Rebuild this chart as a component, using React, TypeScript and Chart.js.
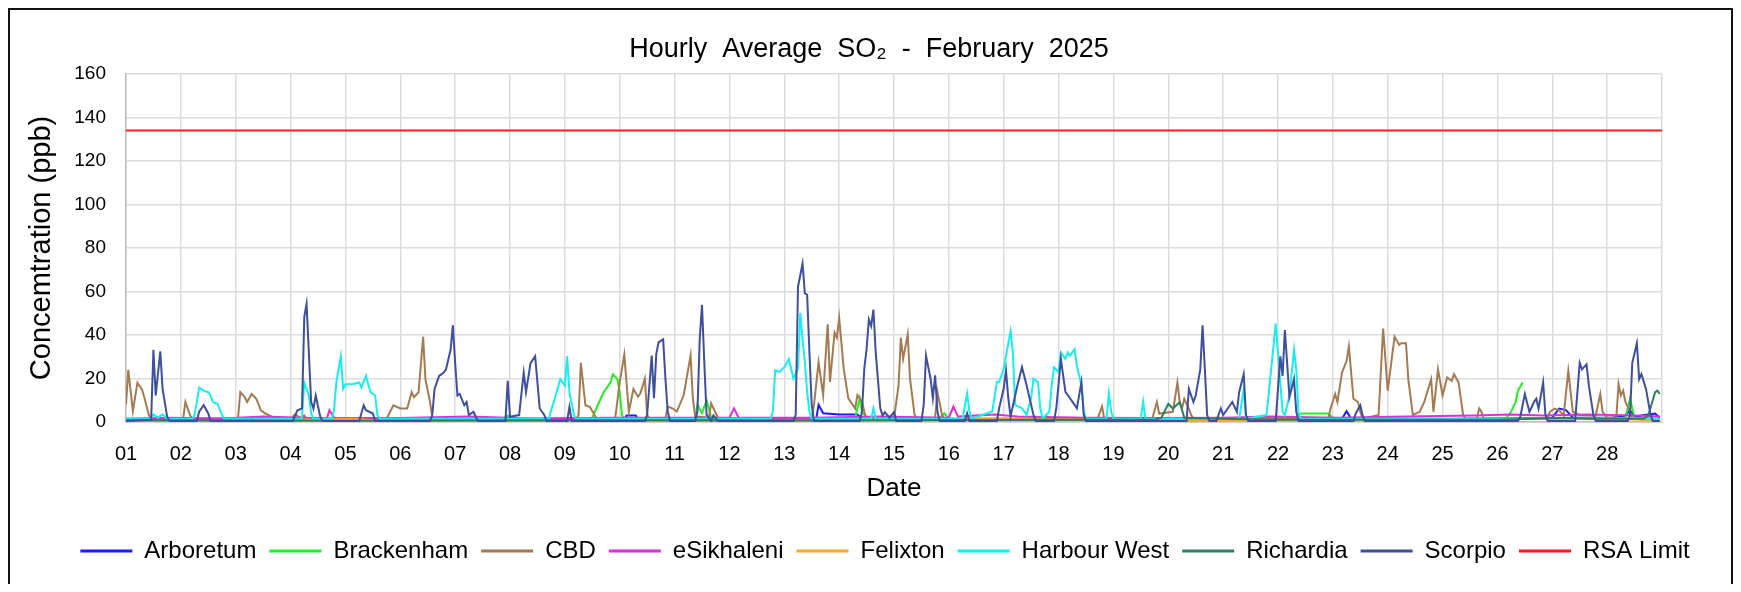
import React, { useEffect, useRef } from 'react';
import { Chart, registerables } from 'chart.js';

Chart.register(...registerables);

// x values are hour offsets from 01 Feb 2025 00:00 (0..672), y values in ppb
type Pt = [number, number | null];

const DAY_LABELS = ['01','02','03','04','05','06','07','08','09','10','11','12','13','14','15','16','17','18','19','20','21','22','23','24','25','26','27','28'];
const HOURS_TOTAL = 672;
const Y_MIN = 0;
const Y_MAX = 160;
const Y_STEP = 20;
const RSA_LIMIT_VALUE = 134;

const SERIES_NAMES = ['Arboretum','Brackenham','CBD','eSikhaleni','Felixton','Harbour West','Richardia','Scorpio','RSA Limit'];
const SERIES_COLORS = ['#1a1aff','#22ee22','#a57a50','#dd2fdd','#ffa329','#14f0f0','#2f7f5f','#3e4f9e','#ff1a1a'];

const ARBORETUM: Pt[] = [[0,1.2],[24,1],[48,1.3],[72,1],[96,1.2],[120,1],[150,1.4],[200,1.1],[218,1.2],[219,3],[223,3],[224,1.2],[280,1],[302,1.5],[303,7.9],[305,4],[312,3.5],[320,3.5],[322,1.5],[360,1.2],[400,1],[450,1.3],[500,1.2],[532,1.5],[534,5],[536,1.5],[560,1.3],[600,1.5],[624,2],[627,6.2],[630,5.5],[633,2],[650,2],[656,3],[658,5.4],[660,2.5],[669,3.9],[671,2]];

const BRACKENHAM: Pt[] = [[0,1.5],[60,1.8],[120,1.5],[165,1.5],[167,3],[169,1.5],[204,2],[207,9.2],[209,13.7],[211,16.7],[212,18.2],[213,22],[215,19.7],[216,13.7],[217,3.2],[218,1.5],[249,2],[250,7.9],[252,4],[254,10.1],[255,6.3],[256,2],[300,1.5],[319,2],[321,10.9],[322,4.8],[324,1.5],[356,2],[358,4],[360,1.5],[420,1.5],[480,1.5],[512,2],[514,3.9],[526,3.9],[528,2],[580,1.5],[604,2],[606,4.7],[608,9.2],[609,14.4],[611,18.2],[612,null],[624,null],[625,1.5],[656,2],[658,10.7],[660,2],[671,1.5]];

const CBD: Pt[] = [[0,8],[1,24],[3,5],[5,18],[7,15],[8,11.4],[10,3.2],[11,1.5],[25,1.5],[26,9.2],[28,3.2],[29,1.5],[49,1.5],[50,13.7],[52,11.4],[53,9.2],[55,12.9],[57,10.7],[59,5.4],[61,3.9],[64,2.4],[66,1.5],[72,1.5],[74,3.5],[76,2],[78,3],[79,1.5],[114,1.5],[117,7.7],[120,6.2],[123,6.2],[125,13.7],[126,11.4],[128,13.7],[130,39.2],[131,19.7],[133,9.2],[134,2.4],[135,1.5],[197,1.5],[198,3.2],[199,27.2],[201,7.7],[203,6.9],[205,3.2],[206,1.5],[214,1.5],[216,18.2],[218,31],[220,4.7],[222,15.2],[224,11.6],[225,13.1],[227,19.9],[228,3.3],[229,1.5],[236,1.5],[237,7.1],[239,6.3],[241,4.8],[244,12.4],[247,30.5],[248,10.9],[249,2.6],[255,2],[256,8.6],[257,6.3],[259,2],[300,1.5],[301,7.9],[303,27.5],[305,12.4],[307,44.9],[308,18.4],[310,41.1],[311,38.8],[312,47.9],[314,24.5],[316,10.9],[319,6.3],[320,12.4],[322,9.4],[323,4.8],[324,1.5],[336,1.5],[338,16.9],[339,38.8],[340,29],[342,40.3],[343,19.9],[345,3.3],[346,1.5],[354,2],[355,13.9],[357,3.3],[358,1.5],[425,1.5],[427,7.1],[428,1.5],[449,1.5],[451,9.2],[452,3.9],[458,4.7],[460,18.2],[461,9.2],[462,6.2],[463,10.7],[465,6.2],[466,3.2],[467,1.5],[526,1.5],[527,6.2],[529,12.9],[530,9.2],[532,22.7],[534,28],[535,34.7],[536,22.7],[537,10.7],[539,9.2],[540,4.7],[541,1.5],[548,3.2],[550,43],[552,14.4],[555,39.2],[557,35.5],[558,36.2],[560,36.2],[561,19.7],[563,3.2],[566,4.7],[568,9.2],[571,19.7],[572,4.7],[574,24.2],[576,12.2],[578,20.5],[580,18.9],[581,22],[583,18.2],[585,3.2],[586,1.5],[591,1.5],[592,6.2],[593,4.7],[594,1.5],[622,2],[623,4.7],[625,6.2],[627,5.4],[629,3],[631,23.5],[633,4.7],[636,3.2],[643,3],[645,12.9],[646,4.7],[648,2],[652,2],[653,17.4],[654,12.2],[655,14.4],[656,9.2],[658,4.7],[659,1.5],[671,1.5]];

const ESIKHALENI: Pt[] = [[0,1.5],[20,2],[40,1.5],[60,2.5],[80,1.8],[88,2],[89,5.4],[91,2],[120,1.8],[150,2.5],[180,1.5],[210,2],[240,2],[264,2],[266,6.3],[268,2],[300,2],[330,2.5],[360,2],[362,7.1],[364,2.5],[380,3.5],[390,2.5],[420,2],[450,1.8],[480,2],[500,2.5],[530,2],[560,2.5],[590,3],[605,3.5],[620,3],[640,3.5],[660,3],[671,2.5]];

const FELIXTON: Pt[] = [[0,0.5],[50,0.6],[100,1.5],[110,0.6],[200,0.5],[300,0.6],[380,1.5],[420,1.2],[460,0.5],[540,1],[560,0.6],[620,1.5],[660,1.2],[671,0.6]];

const HARBOUR_WEST: Pt[] = [[0,1.5],[11,1.5],[12,3.5],[14,2],[16,3.5],[18,1.5],[29,1.5],[30,3.2],[32,15.9],[34,14.4],[36,13.7],[37,12.2],[38,9.2],[40,8.4],[42,3.2],[43,1.5],[76,1.5],[77,2],[78,18.2],[80,12.2],[81,4],[82,1.5],[90,1.5],[91,5.4],[92,18.2],[94,30.2],[95,15.2],[96,17.4],[99,17.4],[102,18.2],[103,15.9],[105,21.2],[107,13.7],[109,12.2],[110,3.2],[111,1.5],[185,1.5],[186,5.4],[188,12.2],[190,19.7],[192,16.7],[193,30.2],[194,13.7],[196,3.2],[197,1.5],[282,1.5],[283,4.8],[284,23.7],[286,23],[288,25.2],[290,29],[291,24.5],[292,19.9],[294,24.5],[295,50.2],[296,38],[297,27.5],[298,13.9],[299,4.8],[300,1.5],[326,1.5],[327,6.3],[328,1.5],[366,1.5],[368,13.1],[369,4.8],[370,1.5],[379,4.8],[381,18.4],[382,18.4],[384,24.5],[385,30.5],[387,41.8],[388,32],[389,7.9],[392,6.3],[394,3.3],[396,10.9],[397,19.9],[399,18.4],[400,6.3],[401,1.5],[404,4.8],[405,16.9],[406,25.2],[408,23],[409,32],[411,29],[412,32],[413,30.5],[415,33.5],[416,26],[418,16.9],[419,4.8],[420,1.5],[429,1.5],[430,13.1],[431,4.8],[432,1.5],[444,1.5],[445,9.4],[446,1.5],[487,1.5],[489,15],[490,1.5],[499,3.2],[501,24.2],[503,45.3],[504,31.7],[506,4.7],[507,3.2],[509,12.2],[511,33.2],[512,24.2],[513,3.2],[514,1.5],[671,1.5]];

const RICHARDIA: Pt[] = [[0,0.8],[100,0.6],[200,0.8],[300,0.7],[400,1],[450,1],[453,2],[456,8.4],[458,6.2],[461,9.2],[463,2],[500,1],[600,1],[630,2],[640,1.5],[664,1.5],[666,3],[669,13.7],[670,14.4],[671,12.9]];

const SCORPIO: Pt[] = [[0,0.5],[11,1],[12,33.2],[13,12.2],[15,32.5],[16,15.2],[18,2.4],[19,0.5],[31,0.5],[32,4.7],[34,7.7],[36,3.9],[37,0.5],[73,0.5],[75,5.4],[77,6.2],[78,48.3],[79,54.3],[80,31.7],[81,9.2],[82,6.2],[83,12.2],[85,2.4],[86,0.5],[102,0.5],[104,7.7],[105,5.4],[108,3.9],[109,0.5],[133,0.5],[134,3.2],[135,15.2],[137,21.2],[139,22.7],[140,24.2],[142,33.2],[143,44.5],[144,27.2],[145,12.2],[146,12.9],[148,7.7],[149,9.2],[150,3.2],[152,4.7],[153,2.4],[154,0.5],[166,0.5],[167,18.9],[168,2.4],[172,3.2],[174,22.7],[175,13.7],[177,27.2],[179,30.2],[180,18.2],[181,6.2],[183,3.2],[184,0.5],[193,0.5],[194,6.9],[195,0.5],[227,0.5],[228,3.3],[230,30.5],[231,10.9],[232,31.3],[233,36.6],[235,38],[236,19.9],[237,4.8],[238,0.5],[249,0.5],[250,4.8],[251,38],[252,53.9],[253,27.5],[254,3.3],[256,0.5],[257,3],[259,0.5],[292,0.5],[293,3.3],[294,62.2],[296,72.8],[297,59.2],[298,58.5],[299,32],[300,7.9],[301,0.5],[321,0.5],[322,4.8],[323,24.5],[324,33.5],[325,47.1],[326,44.1],[327,51.7],[328,32],[330,6.3],[331,3],[332,4.5],[334,2],[336,4.5],[337,0.5],[348,0.5],[349,7.9],[350,30.5],[352,19.9],[353,10.9],[354,21.5],[355,4.8],[356,0.5],[367,0.5],[368,4],[369,0.5],[381,0.5],[382,6.3],[384,15.4],[385,23.7],[386,10.9],[387,2.6],[390,16.9],[392,25.2],[394,16.9],[397,3.3],[398,0.5],[406,0.5],[407,6.3],[409,29],[411,13.9],[413,10.9],[415,7.9],[416,6.3],[418,18.4],[419,3.3],[420,0.5],[464,0.5],[465,15.2],[467,9.2],[468,12.2],[470,24.2],[471,44.5],[472,24.2],[473,3.2],[474,0.5],[477,0.5],[479,6.2],[480,3.2],[482,6.2],[484,9.2],[486,4.7],[487,13.7],[489,22],[490,3.2],[491,0.5],[503,0.5],[505,30.2],[506,21.2],[507,42.3],[508,27.2],[509,11.4],[511,19.7],[512,4.7],[513,0.5],[537,0.5],[538,3.9],[540,7.7],[541,3.2],[542,0.5],[609,0.5],[610,2.4],[612,12.9],[614,4.7],[616,9.2],[617,10.7],[618,6.2],[620,18.2],[621,3.2],[622,0.5],[634,0.5],[636,27.2],[637,24.2],[639,26.5],[640,16.7],[642,3.2],[643,0.5],[657,0.5],[658,3.2],[659,27.2],[661,36.2],[662,19.7],[663,22],[665,15.2],[667,3.2],[668,0.5],[671,0.5]];

const RSA_LIMIT: Pt[] = [[0, RSA_LIMIT_VALUE], [HOURS_TOTAL, RSA_LIMIT_VALUE]];

const ALL_SERIES: Pt[][] = [ARBORETUM, BRACKENHAM, CBD, ESIKHALENI, FELIXTON, HARBOUR_WEST, RICHARDIA, SCORPIO, RSA_LIMIT];

const FONT = "'Liberation Sans', Arial, Helvetica, sans-serif";

// nudges the legend row so it sits where the reference has it
const legendShift = {
  id: 'legendShift',
  afterLayout(chart: any) {
    const lg = chart.legend;
    if (lg) { lg.left += 16; lg.right += 16; }
  },
};

export default function App() {
  const canvasRef = useRef<HTMLCanvasElement | null>(null);

  useEffect(() => {
    const canvas = canvasRef.current;
    if (!canvas) return;
    Chart.defaults.font.family = FONT;
    Chart.defaults.color = '#000';

    const datasets = ALL_SERIES.map((series, i) => ({
      label: SERIES_NAMES[i],
      data: series.map(([x, y]) => ({ x, y })),
      borderColor: SERIES_COLORS[i],
      backgroundColor: SERIES_COLORS[i],
      borderWidth: 2,
      pointRadius: 0,
      pointHoverRadius: 0,
      tension: 0,
      spanGaps: false,
      fill: false,
      order: i === 8 ? 0 : 9 - i,
    }));

    const chart = new Chart(canvas, {
      type: 'line',
      data: { datasets },
      plugins: [legendShift],
      options: {
        animation: false,
        responsive: false,
        maintainAspectRatio: false,
        devicePixelRatio: 1,
        parsing: false as any,
        normalized: true,
        layout: { padding: { top: 0, left: 8, right: 11, bottom: 19 } },
        plugins: {
          tooltip: { enabled: false },
          title: {
            display: true,
            text: 'Hourly  Average  SO\u2082  -  February  2025',
            font: { size: 27, weight: 'normal' },
            color: '#000',
            padding: { top: 33.8, bottom: 7.8 },
          },
          legend: {
            display: true,
            position: 'bottom',
            labels: {
              usePointStyle: true,
              pointStyle: 'line',
              pointStyleWidth: 52,
              boxHeight: 18,
              padding: 13,
              font: { size: 24 },
              color: '#000',
              sort: (a: any, b: any) => a.datasetIndex - b.datasetIndex,
              generateLabels: (c: any) => {
                const items = (Chart.defaults.plugins.legend.labels as any).generateLabels(c);
                items.forEach((it: any) => { it.lineWidth = 3; it.pointStyle = 'line'; });
                return items;
              },
            },
          },
        },
        scales: {
          x: {
            type: 'linear',
            min: 0,
            max: HOURS_TOTAL,
            afterFit: (s: any) => { s.height = 104; s.paddingRight = 79; },
            grid: { color: '#dcdcdc', lineWidth: 1.5, drawTicks: false },
            border: { color: '#bdbdbd', width: 1.5 },
            ticks: {
              stepSize: 24,
              maxTicksLimit: 40,
              autoSkip: false,
              maxRotation: 0,
              padding: 20,
              font: { size: 20 },
              color: '#000',
              callback: (v: any) => DAY_LABELS[Math.round(Number(v) / 24)] ?? '',
            },
            title: {
              display: true,
              text: 'Date',
              font: { size: 26 },
              color: '#000',
              padding: { top: 0, bottom: 22 },
            },
          },
          y: {
            type: 'linear',
            min: Y_MIN,
            max: Y_MAX,
            afterFit: (s: any) => { s.width = 118; },
            grid: { color: '#dcdcdc', lineWidth: 1.5, drawTicks: false },
            border: { color: '#bdbdbd', width: 1.5 },
            ticks: {
              stepSize: Y_STEP,
              padding: 20,
              font: { size: 19 },
              color: '#000',
            },
            title: {
              display: true,
              text: 'Concemtration (ppb)',
              font: { size: 29 },
              color: '#000',
              padding: { top: 16.6, bottom: 0 },
            },
          },
        },
      } as any,
    });
    return () => chart.destroy();
  }, []);

  return (
    <div style={{ position: 'relative', width: 1725, height: 576, background: '#fff' }}>
      <div
        style={{
          position: 'absolute',
          left: 0,
          top: 0,
          width: 1725,
          height: 576,
          boxSizing: 'border-box',
          borderLeft: '2px solid #111',
          borderRight: '2px solid #111',
          borderTop: '2px solid #111',
        }}
      />
      <canvas
        ref={canvasRef}
        width={1741}
        height={592}
        style={{ position: 'absolute', left: -8, top: -8, width: 1741, height: 592 }}
      />
    </div>
  );
}
